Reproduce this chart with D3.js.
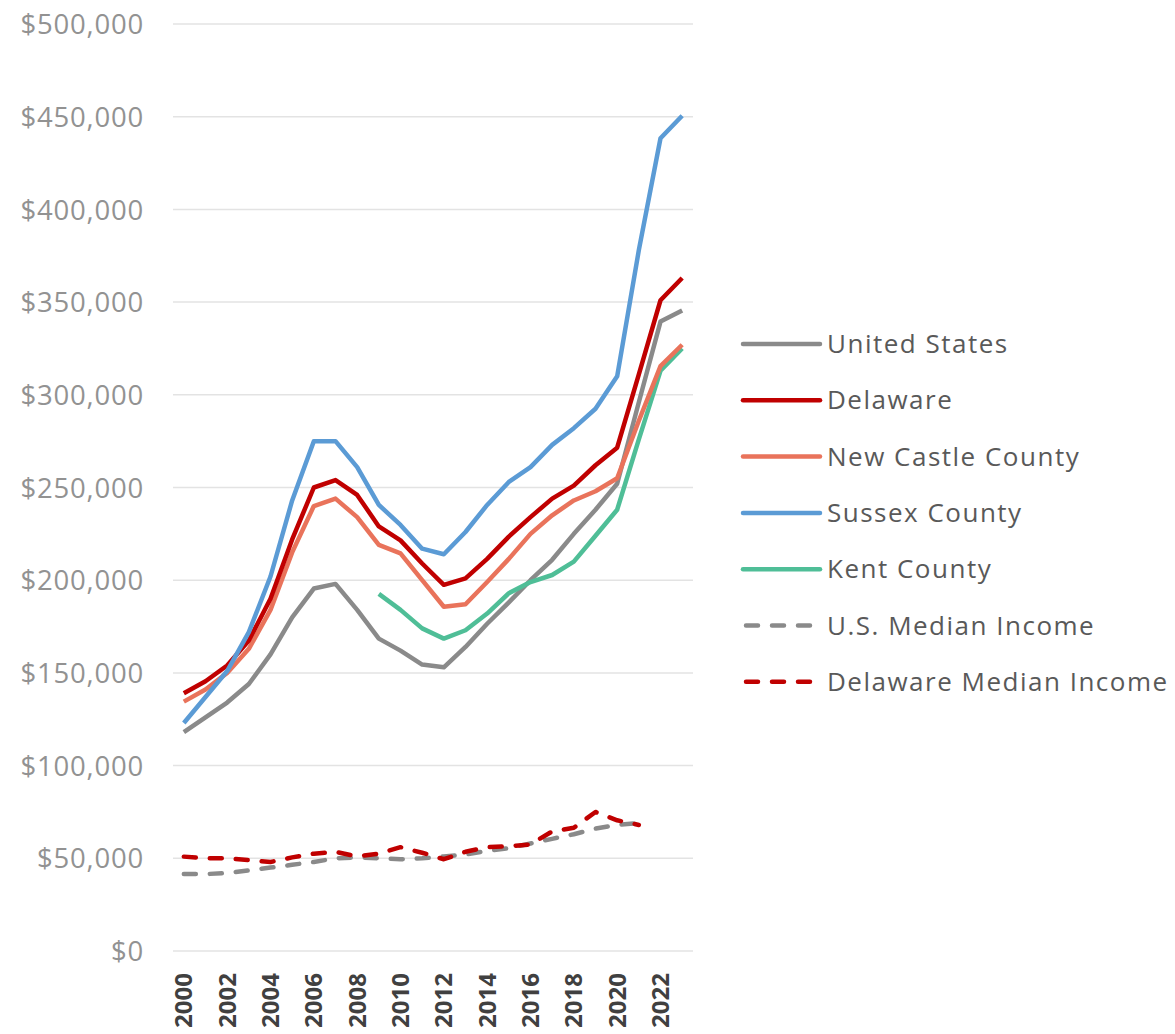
<!DOCTYPE html>
<html>
<head>
<meta charset="utf-8">
<script src="https://cdn.jsdelivr.net/npm/d3@7"></script>
<style>
  html, body { margin: 0; padding: 0; background: #ffffff; }
  svg { display: block; }
</style>
</head>
<body>
<svg id="chart" width="1175" height="1034"></svg>
<script>
// ---- Data (values in US dollars) ----
const years = d3.range(2000, 2024);
const xTickLabels = ["2000","2002","2004","2006","2008","2010","2012","2014","2016","2018","2020","2022"];
const yTickValues = [0, 50000, 100000, 150000, 200000, 250000, 300000, 350000, 400000, 450000, 500000];

const unitedStates = [118000,126000,134000,144000,160000,180000,195500,198000,184000,168500,162000,154500,153000,164000,176500,188000,200000,211000,225000,238000,252000,296000,339500,345500];
const delaware     = [139000,145500,154000,167500,190000,222000,250000,254000,246000,229000,221500,209000,197500,201000,211500,223500,234000,244000,251000,262000,271500,311000,351000,363000];
const newCastle    = [134500,141000,150000,163000,184000,215000,240000,244000,234000,219000,214500,200000,185700,187000,199000,211500,225000,235000,243000,248000,255000,286000,315500,327000];
const sussex       = [123000,137000,151000,172000,202000,243000,275000,275000,261000,240600,229800,217000,214000,226000,240600,253000,261000,273000,282000,292500,310000,378000,438400,450500];
const kent         = [null,null,null,null,null,null,null,null,null,192600,184000,174000,168500,173000,182000,193000,199000,202800,210000,224000,238000,276000,313000,325000];
const usIncome     = [41500,41500,42000,43500,45000,46500,48000,50000,50500,50000,49500,50000,51000,52000,54000,55500,58000,60500,63000,66000,68000,69000];
const deIncome     = [50900,50000,50000,49000,48000,50500,52500,53500,51000,52500,56000,53000,49500,53500,56000,56500,57500,64500,66500,75000,70500,68000];

const seriesNames  = ["United States","Delaware","New Castle County","Sussex County","Kent County","U.S. Median Income","Delaware Median Income"];
const seriesValues = [unitedStates, delaware, newCastle, sussex, kent, usIncome, deIncome];
const seriesColors = ["#8a8a8a","#c00000","#e9735b","#5b9bd5","#4fbe97","#8a8a8a","#c00000"];
const seriesDashed = [false,false,false,false,false,true,true];

// ---- Layout ----
const svg = d3.select("#chart");
const plotLeft = 173, plotRight = 693, plotTop = 24, plotBottom = 951;

const x = d3.scaleBand().domain(years).range([plotLeft, plotRight]).padding(0);
const xc = yr => x(yr) + x.bandwidth() / 2;
const y = d3.scaleLinear().domain([0, 500000]).range([plotBottom, plotTop]);

// Gridlines
svg.append("g")
  .selectAll("line")
  .data(yTickValues)
  .join("line")
  .attr("x1", plotLeft).attr("x2", plotRight)
  .attr("y1", d => y(d)).attr("y2", d => y(d))
  .attr("stroke", "#e3e3e3").attr("stroke-width", 1.5);

// Y axis
const yAxis = d3.axisLeft(y).tickValues(yTickValues)
  .tickFormat(d => "$" + d3.format(",")(d)).tickSize(0).tickPadding(0);
const gy = svg.append("g").attr("transform", `translate(144,0)`).call(yAxis);
gy.select(".domain").remove();
gy.selectAll("text")
  .attr("font-family", "'Open Sans', sans-serif")
  .attr("font-size", 27.5)
  .attr("letter-spacing", "0.8px")
  .attr("fill", "#929292")
  .attr("dy", "0.35em");

// X axis
const xAxis = d3.axisBottom(x).tickValues(years.filter(yr => xTickLabels.includes(String(yr))))
  .tickFormat(d => String(d)).tickSize(0).tickPadding(0);
const gx = svg.append("g").attr("transform", `translate(0,${plotBottom})`).call(xAxis);
gx.select(".domain").remove();
gx.selectAll("text")
  .attr("font-family", "'Open Sans', sans-serif")
  .attr("font-size", 24)
  .attr("font-weight", "bold")
  .attr("fill", "#404040")
  .attr("text-anchor", "end")
  .attr("transform", "rotate(-90)")
  .attr("x", -22)
  .attr("y", 0)
  .attr("dy", "0.36em");

// Lines
const line = d3.line()
  .defined(d => d.v !== null)
  .x(d => xc(d.year))
  .y(d => y(d.v));

const order = [5, 6, 0, 4, 2, 1, 3];
order.forEach(i => {
  const pts = seriesValues[i].map((v, k) => ({ year: years[k], v: v }));
  svg.append("path")
    .datum(pts)
    .attr("fill", "none")
    .attr("stroke", seriesColors[i])
    .attr("stroke-width", 4.5)
    .attr("stroke-linejoin", "round")
    .attr("stroke-linecap", seriesDashed[i] ? "round" : "butt")
    .attr("stroke-dasharray", seriesDashed[i] ? "12,14" : null)
    .attr("d", line);
});

// Legend
const legend = svg.append("g");
seriesNames.forEach((name, i) => {
  const ly = 344 + i * 56.3;
  legend.append("line")
    .attr("x1", seriesDashed[i] ? 746 : 743).attr("x2", seriesDashed[i] ? 817 : 820)
    .attr("y1", ly).attr("y2", ly)
    .attr("stroke", seriesColors[i])
    .attr("stroke-width", 4.5)
    .attr("stroke-linecap", "round")
    .attr("stroke-dasharray", seriesDashed[i] ? "12,14" : null);
  legend.append("text")
    .attr("x", 827).attr("y", ly).attr("dy", "0.35em")
    .attr("font-family", "'Open Sans', sans-serif")
    .attr("font-size", 26)
    .attr("letter-spacing", "1.5px")
    .attr("fill", "#595959")
    .text(name);
});
</script>
</body>
</html>
